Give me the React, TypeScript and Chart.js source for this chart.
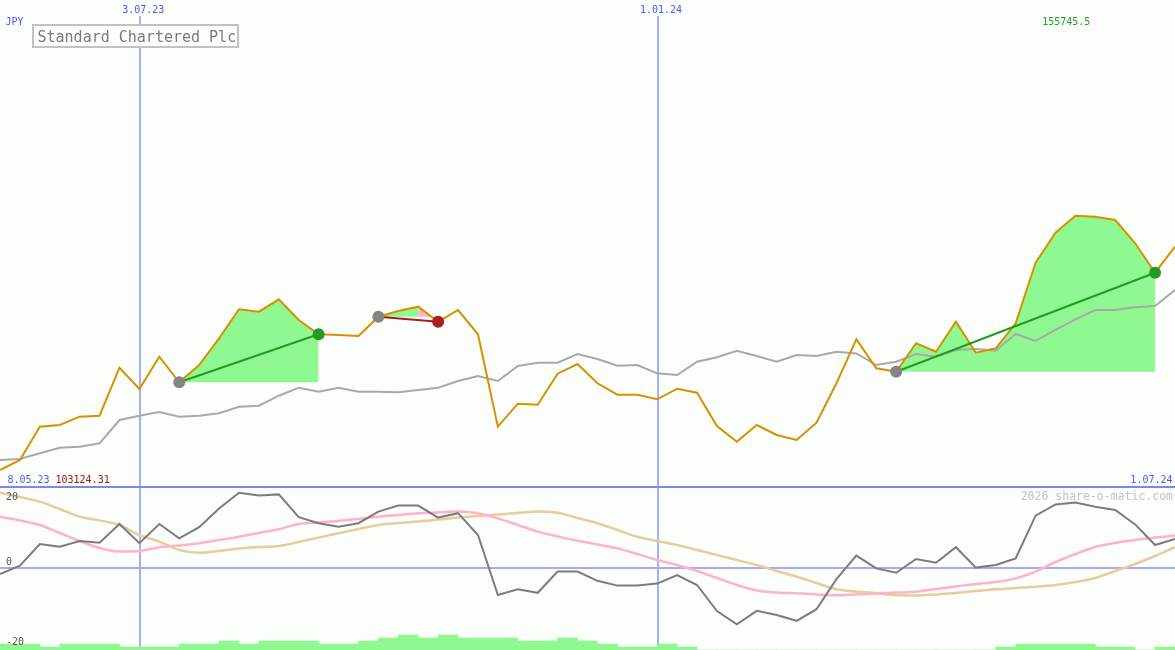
import React, { useEffect, useRef } from 'react';
import { Chart, registerables } from 'chart.js';

Chart.register(...registerables);

// ---------- data ----------
const tickIndex = [7, 33];
const tickLabels = ['3.07.23', '1.01.24'];
const startLabel = '8.05.23';
const endLabel = '1.07.24';
const currencyLabel = 'JPY';
const titleText = 'Standard Chartered Plc';
const maxPriceLabel = '155745.5';
const minPriceLabel = '103124.31';
const copyrightText = '2026 share-o-matic.com';
const oscTickValues = [20, 0, -20];

const price = [
  103124.31, 105193, 112084, 112436, 114153, 114360, 124293, 119885, 126569, 121272,
  124852, 130377, 136378, 135881, 138447, 134164, 131205, 131060, 130853, 134847,
  136026, 136916, 133812, 136233, 131205, 112084, 116844, 116637, 123052, 125059,
  121065, 118706, 118706, 117754, 119947, 119120, 112229, 108980, 112436, 110367,
  109332, 112912, 121065, 130170, 124169, 123465, 129342, 127604, 133812, 127397,
  128308, 133481, 146021, 152229, 155745.5, 155540, 154857, 150035, 143950, 149331,
];

const average = [
  105193, 105400, 106580, 107739, 107946, 108649, 113471, 114360, 115126, 114153,
  114360, 114857, 116223, 116430, 118499, 120155, 119327, 120155, 119327, 119327,
  119202, 119678, 120155, 121541, 122575, 121541, 124644, 125327, 125327, 127128,
  126093, 124706, 124852, 123134, 122782, 125534, 126445, 127810, 126714, 125534,
  126921, 126714, 127604, 127231, 124852, 125534, 127128, 126569, 127956, 128163,
  127810, 131266, 129818, 132094, 134308, 136233, 136233, 136792, 137061, 140371,
];

const momentum = [
  -1.5, 0.6, 6, 5.3, 6.75, 6.3, 11, 6.2, 11, 7.4,
  10.2, 14.9, 18.8, 18.1, 18.4, 12.7, 11.2, 10.3, 11.2, 14.1,
  15.6, 15.6, 12.6, 13.7, 8.25, -6.75, -5.3, -6.2, -0.9, -0.9,
  -3.2, -4.4, -4.4, -3.9, -1.75, -4.25, -10.75, -14.1, -10.7, -11.75,
  -13.2, -10.3, -2.8, 3.1, -0.1, -1.2, 2.25, 1.3, 5.2, 0.1,
  0.75, 2.4, 13.1, 15.9, 16.4, 15.3, 14.5, 10.9, 5.75, 7.25,
];

const signalPink = [
  12.8, 11.9, 10.75, 8.75, 6.75, 5, 4.1, 4.25, 5.2, 5.6,
  6.2, 7, 7.8, 8.75, 9.7, 11, 11.4, 11.75, 12.25, 12.8,
  13.25, 13.7, 13.9, 14.1, 13.7, 12.4, 10.75, 9.1, 7.9, 6.8,
  5.9, 4.9, 3.5, 2, 0.75, -0.75, -2.5, -4.25, -5.6, -6.1,
  -6.3, -6.6, -6.8, -6.6, -6.4, -6.15, -5.95, -5.25, -4.6, -4,
  -3.5, -2.6, -0.9, 1.5, 3.5, 5.25, 6.25, 7, 7.6, 8.1,
];

const signalTan = [
  18.8, 17.75, 16.6, 14.75, 12.8, 11.9, 10.75, 8.25, 6.6, 4.5,
  3.8, 4.25, 4.9, 5.25, 5.5, 6.5, 7.6, 8.7, 9.75, 10.75,
  11.25, 11.6, 12.1, 12.6, 13, 13.4, 13.75, 14.1, 13.8, 12.5,
  11.2, 9.5, 7.8, 6.75, 5.75, 4.5, 3.25, 2, 0.75, -0.75,
  -2.2, -3.75, -5.3, -5.9, -6.3, -6.75, -6.9, -6.6, -6.25, -5.75,
  -5.3, -5, -4.7, -4.25, -3.5, -2.5, -0.75, 1, 3, 5.2,
];

const volume = [
  2, 2, 1, 2, 2, 2, 1, 1, 1, 2,
  2, 3, 2, 3, 3, 3, 2, 2, 3, 4,
  5, 4, 5, 4, 4, 4, 3, 3, 4, 3,
  2, 1, 1, 2, 1, 0, 0, 0, 0, 0,
  0, 0, 0, 0, 0, 0, 0, 0, 0, 0,
  1, 2, 2, 2, 2, 1, 1, 0, 1, 0,
];

const tradeStarts = [9, 19, 45];
const tradeEnds = [16, 22, 58];

// ---------- styling / scale constants ----------
const W = 1175;
const H = 650;
const PRICE_MIN = 65877;
const PRICE_MAX = 200380;
const OSC_MIN = -20.5;
const OSC_MAX = 142;
const OSC_PANEL_TOP = 20.25;
const VOL_MAX = 650 / 3;

const BG = '#fbfefb';
const GREEN_FILL = '#90f890';
const PINK_FILL = '#ffb4cc';
const MONO = '"DejaVu Sans Mono", "Liberation Mono", monospace';

const pts = (arr: number[], from = 0, to = arr.length - 1) => {
  const out: { x: number; y: number }[] = [];
  for (let i = from; i <= to; i++) out.push({ x: i, y: arr[i] });
  return out;
};

export default function App() {
  const ref = useRef<HTMLCanvasElement | null>(null);

  useEffect(() => {
    const canvas = ref.current;
    if (!canvas) return;

    const datasets: any[] = [];

    datasets.push({
      type: 'bar',
      data: volume.map((v, i) => ({ x: i + 0.5, y: v })),
      yAxisID: 'yVol',
      backgroundColor: GREEN_FILL,
      borderWidth: 0,
      barPercentage: 1,
      categoryPercentage: 1,
      order: 20,
    });

    const oscLine = (data: number[], color: string, width: number, smooth: boolean, order: number) => ({
      type: 'line',
      data: pts(data),
      yAxisID: 'yOsc',
      borderColor: color,
      borderWidth: width,
      pointRadius: 0,
      fill: false,
      tension: 0,
      cubicInterpolationMode: smooth ? 'monotone' : 'default',
      order,
    });
    datasets.push(oscLine(signalTan, '#e6cd9d', 2.5, true, 19));
    datasets.push(oscLine(signalPink, '#ffb2c8', 2.5, true, 18));
    datasets.push(oscLine(momentum, '#7c7c7c', 2, false, 17));

    // trade fills
    tradeStarts.forEach((s, k) => {
      const e = tradeEnds[k];
      const win = price[e] >= price[s];
      const base = price[s];
      let split = e;
      if (!win) {
        let best = s;
        for (let i = s; i <= e; i++) if (price[i] > price[best]) best = i;
        split = best;
      }
      datasets.push({
        type: 'line',
        data: pts(price, s, split),
        yAxisID: 'yPrice',
        borderColor: 'rgba(0,0,0,0)',
        borderWidth: 0,
        pointRadius: 0,
        backgroundColor: GREEN_FILL,
        fill: { value: base },
        order: 15,
      });
      if (split < e) {
        datasets.push({
          type: 'line',
          data: pts(price, split, e),
          yAxisID: 'yPrice',
          borderColor: 'rgba(0,0,0,0)',
          borderWidth: 0,
          pointRadius: 0,
          backgroundColor: PINK_FILL,
          fill: { value: base },
          order: 15,
        });
      }
    });

    datasets.push({
      type: 'line',
      data: pts(average),
      yAxisID: 'yPrice',
      borderColor: '#a9a9a9',
      borderWidth: 2,
      pointRadius: 0,
      fill: false,
      tension: 0,
      order: 12,
    });
    datasets.push({
      type: 'line',
      data: pts(price),
      yAxisID: 'yPrice',
      borderColor: '#d99000',
      borderWidth: 2,
      pointRadius: 0,
      fill: false,
      tension: 0,
      order: 11,
    });

    // trade lines and markers
    const markerData: { x: number; y: number }[] = [];
    const markerColors: string[] = [];
    tradeStarts.forEach((s, k) => {
      const e = tradeEnds[k];
      const win = price[e] >= price[s];
      datasets.push({
        type: 'line',
        data: [
          { x: s, y: price[s] },
          { x: e, y: price[e] },
        ],
        yAxisID: 'yPrice',
        borderColor: win ? '#239b23' : '#a21e1e',
        borderWidth: 2,
        pointRadius: 0,
        fill: false,
        order: 5,
      });
      markerData.push({ x: s, y: price[s] });
      markerColors.push('#858585');
      markerData.push({ x: e, y: price[e] });
      markerColors.push(win ? '#259a25' : '#a82020');
    });
    datasets.push({
      type: 'line',
      data: markerData,
      yAxisID: 'yPrice',
      showLine: false,
      pointRadius: 6,
      pointBorderWidth: 0,
      pointBackgroundColor: markerColors,
      borderColor: 'rgba(0,0,0,0)',
      order: 1,
    });

    const decor = {
      id: 'decor',
      beforeDraw(chart: any) {
        const ctx = chart.ctx;
        ctx.save();
        ctx.fillStyle = BG;
        ctx.fillRect(0, 0, W, H);
        ctx.restore();
      },
      beforeDatasetsDraw(chart: any) {
        const ctx = chart.ctx;
        const x = chart.scales.x;
        const yo = chart.scales.yOsc;
        ctx.save();
        ctx.strokeStyle = '#a3b0f3';
        ctx.lineWidth = 2;
        tickIndex.forEach((t) => {
          const px = Math.round(x.getPixelForValue(t)) + 1;
          ctx.beginPath();
          ctx.moveTo(px, 16);
          ctx.lineTo(px, H);
          ctx.stroke();
        });
        const zy = Math.round(yo.getPixelForValue(0));
        ctx.strokeStyle = '#a3acf0';
        ctx.beginPath();
        ctx.moveTo(0, zy);
        ctx.lineTo(W, zy);
        ctx.stroke();
        ctx.restore();
      },
      afterDraw(chart: any) {
        const ctx = chart.ctx;
        const x = chart.scales.x;
        const yo = chart.scales.yOsc;
        ctx.save();
        // panel separator
        const sy = Math.round(yo.getPixelForValue(OSC_PANEL_TOP));
        ctx.strokeStyle = '#7888f0';
        ctx.lineWidth = 2;
        ctx.beginPath();
        ctx.moveTo(0, sy);
        ctx.lineTo(W, sy);
        ctx.stroke();

        // title box
        ctx.fillStyle = BG;
        ctx.fillRect(33, 25, 205, 22);
        ctx.strokeStyle = '#c2c2c2';
        ctx.lineWidth = 2;
        ctx.strokeRect(33, 25, 205, 22);
        ctx.font = '15px ' + MONO;
        ctx.fillStyle = '#7a7a7a';
        ctx.textBaseline = 'alphabetic';
        ctx.textAlign = 'left';
        ctx.fillText(titleText, 37.5, 41.5);

        ctx.font = '10px ' + MONO;
        // date ticks
        ctx.fillStyle = '#4a5cf0';
        ctx.textAlign = 'center';
        tickIndex.forEach((t, k) => {
          const px = x.getPixelForValue(t);
          ctx.fillText(tickLabels[k], px + 3.8, 12.8);
        });
        ctx.textAlign = 'left';
        ctx.fillText(currencyLabel, 5.5, 24.8);
        ctx.fillText(startLabel, 7.5, 482.8);
        ctx.textAlign = 'right';
        ctx.fillText(endLabel, 1172.5, 482.8);

        ctx.fillStyle = '#a81414';
        ctx.textAlign = 'left';
        ctx.fillText(minPriceLabel, 55.5, 482.8);

        ctx.fillStyle = '#22a022';
        ctx.textAlign = 'right';
        ctx.fillText(maxPriceLabel, 1090.3, 24.8);

        // oscillator tick labels
        ctx.fillStyle = '#5a5a5a';
        ctx.textAlign = 'left';
        oscTickValues.forEach((v) => {
          let by = yo.getPixelForValue(v) - 3;
          by = Math.max(499.5, Math.min(646, by));
          ctx.fillText(String(v), 6, by);
        });

        ctx.font = '11.5px ' + MONO;
        ctx.fillStyle = '#c4c4c4';
        ctx.textAlign = 'right';
        ctx.fillText(copyrightText, 1173, 500);
        ctx.restore();
      },
    };

    const chart = new Chart(canvas, {
      type: 'line',
      data: { datasets },
      options: {
        animation: false,
        responsive: false,
        maintainAspectRatio: false,
        devicePixelRatio: 1,
        events: [],
        layout: { padding: 0, autoPadding: false },
        plugins: {
          legend: { display: false },
          tooltip: { enabled: false },
          title: { display: false },
        },
        scales: {
          x: {
            type: 'linear',
            min: 0,
            max: price.length - 1,
            display: false,
            offset: false,
            grid: { offset: false },
          },
          yPrice: { type: 'linear', position: 'left', min: PRICE_MIN, max: PRICE_MAX, display: false },
          yOsc: { type: 'linear', position: 'left', min: OSC_MIN, max: OSC_MAX, display: false },
          yVol: { type: 'linear', position: 'left', min: 0, max: VOL_MAX, display: false, beginAtZero: true },
        },
      } as any,
      plugins: [decor],
    } as any);

    return () => chart.destroy();
  }, []);

  return (
    <div style={{ position: 'fixed', left: 0, top: 0, width: W, height: H, background: BG }}>
      <canvas ref={ref} width={W} height={H} style={{ display: 'block', width: W, height: H }} />
    </div>
  );
}
